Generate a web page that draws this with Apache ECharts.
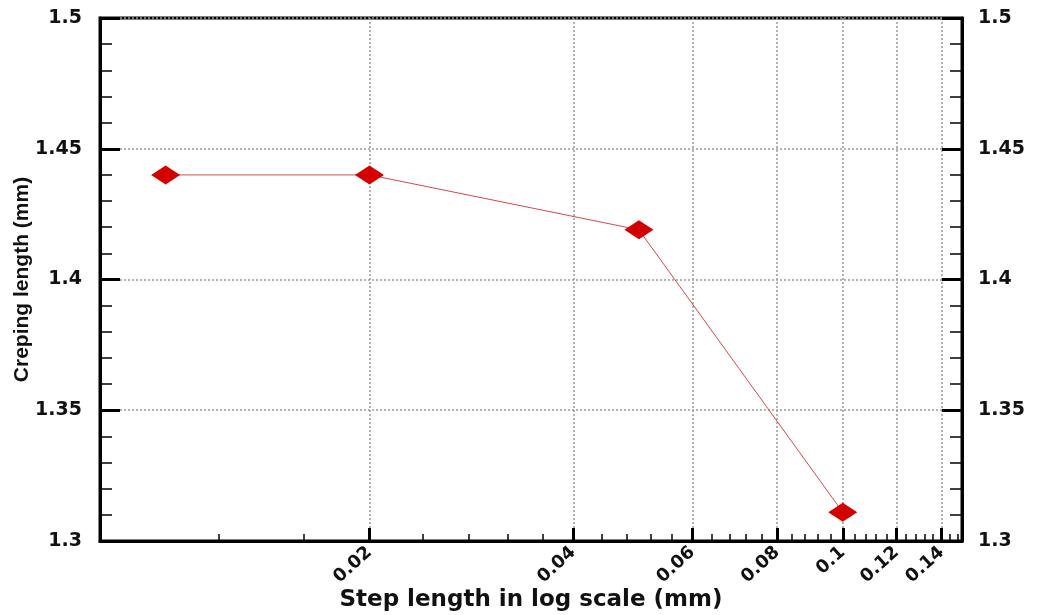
<!DOCTYPE html>
<html>
<head>
<meta charset="utf-8">
<script src="https://cdn.jsdelivr.net/npm/echarts@6/dist/echarts.min.js"></script>
<style>
  html, body { margin: 0; background: #fff; }
  #chart { width: 1039px; height: 615px; }
</style>
</head>
<body>
<div id="chart"></div>
<script>
// data
const stepLength = [0.01, 0.02, 0.05, 0.1]
const crepingLength = [1.44, 1.44, 1.419, 1.311]

// x axis (log) ticks
const xMajorTicks = [0.02, 0.04, 0.06, 0.08, 0.1, 0.12, 0.14]
const xMinorTicks = [
  0.012, 0.016, 0.024, 0.028, 0.032, 0.036, 0.044, 0.048, 0.052, 0.056,
  0.064, 0.068, 0.072, 0.076, 0.084, 0.088, 0.092, 0.096, 0.104, 0.108,
  0.112, 0.116, 0.124, 0.128, 0.132, 0.136, 0.144, 0.148,
]
const xMin = 0.008
const xMax = 0.15
const yMin = 1.3
const yMax = 1.5
const yStep = 0.05

const font = 'Liberation Sans, Arial, sans-serif'
const wideFont = 'DejaVu Sans, sans-serif'
const grid = '#9a9a9a'

const chart = echarts.init(document.getElementById('chart'))

const yAxisBase = (position) => ({
  type: 'value',
  position,
  min: yMin,
  max: yMax,
  interval: yStep,
  axisLine: { show: true, lineStyle: { color: '#000', width: 3 } },
  axisTick: { show: true, inside: true, length: 20, lineStyle: { color: '#000', width: 3 } },
  minorTick: { show: true, splitNumber: 5, length: 12, lineStyle: { color: '#000', width: 1.5 } },
  axisLabel: {
    margin: position === 'left' ? 18 : 16,
    color: '#111',
    fontFamily: wideFont,
    fontWeight: 'bold',
    fontSize: 19,
    formatter: (v) => String(+v.toFixed(2)),
  },
  splitLine: { show: false },
})

const option = {
  animation: false,
  backgroundColor: '#fff',
  grid: {
    left: 100,
    right: 77,
    top: 18,
    bottom: 74,
    outerBoundsMode: 'none',
    show: true,
    borderColor: '#000',
    borderWidth: 3,
  },
  xAxis: [
    {
      type: 'log',
      logBase: 10,
      min: xMin,
      max: xMax,
      position: 'bottom',
      name: 'Step length in log scale (mm)',
      nameLocation: 'middle',
      nameGap: 48,
      nameMoveOverlap: false,
      nameTextStyle: { color: '#111', fontFamily: wideFont, fontWeight: 'bold', fontSize: 23 },
      axisLine: { show: true, lineStyle: { color: '#000', width: 3 } },
      axisTick: {
        show: true,
        inside: true,
        length: 13,
        customValues: xMajorTicks,
        lineStyle: { color: '#000', width: 3 },
      },
      axisLabel: {
        customValues: xMajorTicks,
        rotate: 42,
        margin: 9,
        color: '#111',
        fontFamily: wideFont,
        fontWeight: 'bold',
        fontSize: 18,
        formatter: (v) => String(+(+v).toFixed(3)),
      },
      splitLine: { show: true, lineStyle: { color: grid, width: 1.5, type: [2, 2] } },
      minorTick: { show: false },
    },
    {
      type: 'log',
      logBase: 10,
      min: xMin,
      max: xMax,
      position: 'bottom',
      axisLine: { show: false },
      axisTick: {
        show: true,
        inside: true,
        length: 7,
        customValues: xMinorTicks,
        lineStyle: { color: '#000', width: 1.5 },
      },
      axisLabel: { show: false },
      splitLine: { show: false },
    },
  ],
  yAxis: [
    Object.assign(yAxisBase('left'), {
      name: 'Creping length (mm)',
      nameLocation: 'middle',
      nameGap: 67,
      nameMoveOverlap: false,
      nameTextStyle: { color: '#111', fontFamily: font, fontWeight: 'bold', fontSize: 21 },
      splitLine: { show: true, lineStyle: { color: grid, width: 1.5, type: [2, 2] } },
    }),
    yAxisBase('right'),
  ],
  series: [
    {
      type: 'line',
      xAxisIndex: 0,
      yAxisIndex: 0,
      data: stepLength.map((x, i) => [x, crepingLength[i]]),
      symbol: 'diamond',
      symbolSize: [29, 19],
      itemStyle: { color: '#d40000' },
      lineStyle: { color: '#d44a4a', width: 1 },
      z: 5,
    },
  ],
}

chart.setOption(option)
</script>
</body>
</html>
